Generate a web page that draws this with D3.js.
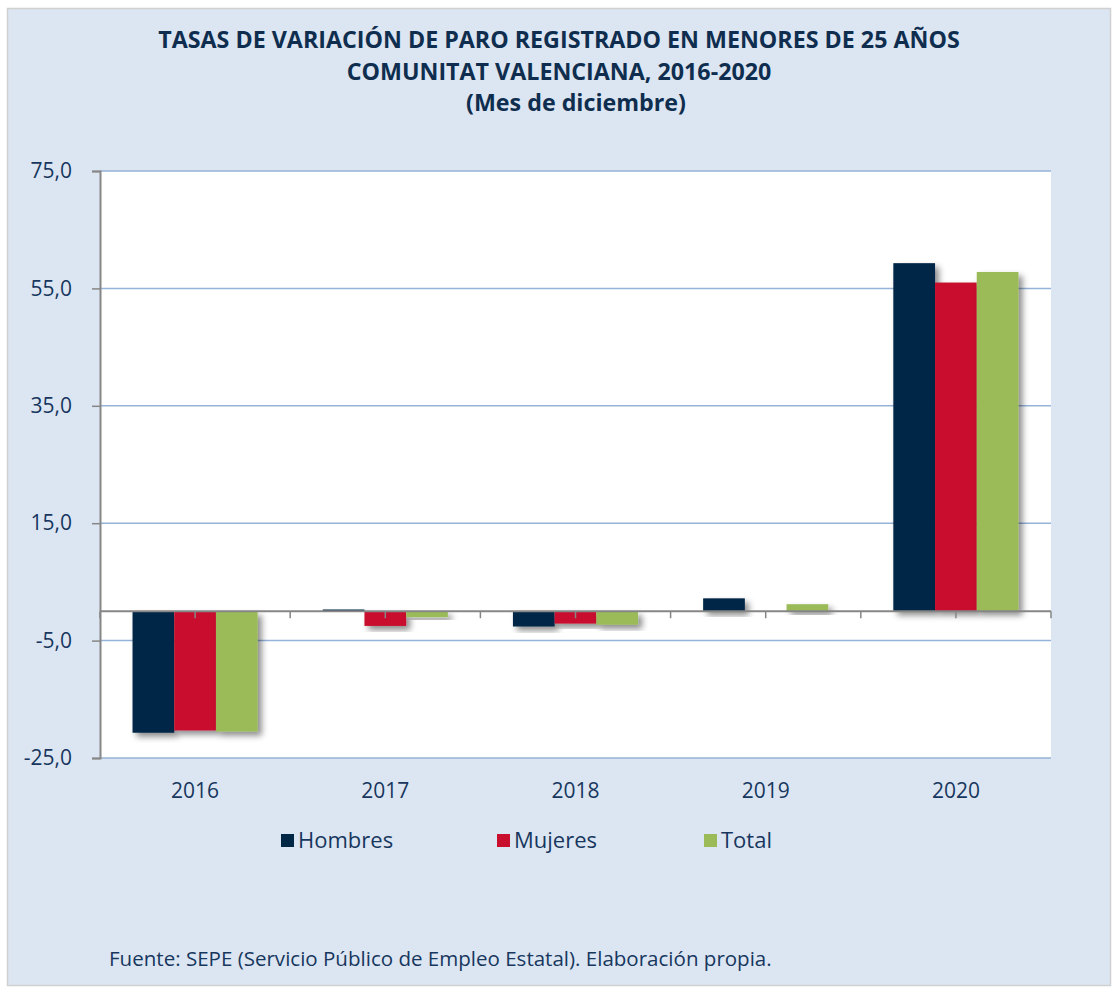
<!DOCTYPE html>
<html>
<head>
<meta charset="utf-8">
<script src="https://cdn.jsdelivr.net/npm/d3@7"></script>
<style>
  body { margin: 0; background: #fff; }
  svg { display: block; font-family: "Open Sans", sans-serif; }
</style>
</head>
<body>
<svg id="chart" width="1117" height="992"></svg>
<script>
// chart data
const years = ["2016", "2017", "2018", "2019", "2020"];
const seriesNames = ["Hombres", "Mujeres", "Total"];
const hombres = [-20.7, 0.3, -2.6, 2.2, 59.3];
const mujeres = [-20.3, -2.5, -2.1, 0.0, 56.0];
const total = [-20.5, -1.0, -2.3, 1.2, 57.8];
const yTicks = [75, 55, 35, 15, -5, -25];
const colors = ["#002846", "#c8102e", "#9bbb59"];

const titleLines = [
  "TASAS DE VARIACIÓN DE PARO REGISTRADO EN MENORES DE 25 AÑOS",
  "COMUNITAT VALENCIANA, 2016-2020",
  "(Mes de diciembre)"
];
const source = "Fuente: SEPE (Servicio Público de Empleo Estatal). Elaboración propia.";

const values = [hombres, mujeres, total];
const svg = d3.select("#chart");

// scale a text's font so that it spans a given width
function fitWidth(sel, target) {
  const w = sel.node().getComputedTextLength();
  const fs = parseFloat(sel.attr("font-size"));
  return fs * target / w;
}

// panel background
svg.append("rect")
  .attr("x", 7.5).attr("y", 8.5)
  .attr("width", 1103).attr("height", 977)
  .attr("fill", "#dce6f2")
  .attr("stroke", "#d0d0d0")
  .attr("stroke-width", 1.5);

// shadow for bars
const filt = svg.append("defs").append("filter")
  .attr("id", "shadow")
  .attr("x", "-20%").attr("y", "-20%")
  .attr("width", "160%").attr("height", "160%");
filt.append("feDropShadow")
  .attr("dx", 4).attr("dy", 4)
  .attr("stdDeviation", 3)
  .attr("flood-color", "#000")
  .attr("flood-opacity", 0.45);

// title (last line sits a little to the right in the original)
const title = svg.append("g").selectAll("text")
  .data(titleLines)
  .join("text")
  .attr("x", 559)
  .attr("dx", (d, i) => i === 2 ? 17 : 0)
  .attr("y", (d, i) => 48 + i * 31.5)
  .attr("text-anchor", "middle")
  .attr("font-size", 21)
  .attr("font-weight", "bold")
  .attr("fill", "#0f2e4f")
  .text(d => d);
const titleSize = fitWidth(title.filter((d, i) => i === 0), 802);
title.attr("font-size", titleSize);

const plot = { left: 100, right: 1051, top: 171, bottom: 758 };

const y = d3.scaleLinear()
  .domain([-25, 75])
  .range([plot.bottom, plot.top]);

const x0 = d3.scaleBand()
  .domain(years)
  .range([plot.left, plot.right]);

const x1 = d3.scaleBand()
  .domain(seriesNames)
  .range([0, x0.bandwidth()])
  .paddingOuter(0.78);

// plot area
svg.append("rect")
  .attr("x", plot.left).attr("y", plot.top)
  .attr("width", plot.right - plot.left)
  .attr("height", plot.bottom - plot.top)
  .attr("fill", "#fff");

// gridlines
svg.append("g").selectAll("line")
  .data(yTicks)
  .join("line")
  .attr("x1", plot.left).attr("x2", plot.right)
  .attr("y1", d => y(d)).attr("y2", d => y(d))
  .attr("stroke", "#95b3d7")
  .attr("stroke-width", 1.5);

// y axis
const yAxis = svg.append("g")
  .attr("transform", `translate(${plot.left},0)`)
  .call(d3.axisLeft(y)
    .tickValues(yTicks)
    .tickSize(8)
    .tickPadding(20)
    .tickFormat(d => d3.format(".1f")(d).replace(".", ",").replace("−", "-")));
yAxis.select(".domain").attr("stroke", "#868686").attr("stroke-width", 2);
yAxis.selectAll(".tick line").attr("stroke", "#868686").attr("stroke-width", 1.5);
yAxis.selectAll(".tick text")
  .attr("font-size", 21)
  .attr("font-family", "'Open Sans', sans-serif")
  .attr("fill", "#17375e");

// bars
const groups = svg.append("g").selectAll("g")
  .data(years)
  .join("g")
  .attr("transform", d => `translate(${x0(d)},0)`);

groups.selectAll("rect")
  .data((yr, i) => seriesNames.map((s, j) => ({ s, j, v: values[j][i] })))
  .join("rect")
  .attr("x", d => x1(d.s))
  .attr("width", x1.bandwidth())
  .attr("y", d => y(Math.max(0, d.v)))
  .attr("height", d => Math.abs(y(d.v) - y(0)))
  .attr("fill", d => colors[d.j])
  .attr("filter", "url(#shadow)");

// zero axis with ticks every half category
const xTicks = d3.range(0, years.length * 2 + 1).map(i => plot.left + i * x0.bandwidth() / 2);
svg.append("g").selectAll("line")
  .data(xTicks)
  .join("line")
  .attr("x1", d => d).attr("x2", d => d)
  .attr("y1", y(0)).attr("y2", y(0) + 7)
  .attr("stroke", "#868686")
  .attr("stroke-width", 1.5);
svg.append("line")
  .attr("x1", plot.left).attr("x2", plot.right)
  .attr("y1", y(0)).attr("y2", y(0))
  .attr("stroke", "#868686")
  .attr("stroke-width", 2);

// category labels
svg.append("g").selectAll("text")
  .data(years)
  .join("text")
  .attr("x", d => x0(d) + x0.bandwidth() / 2)
  .attr("y", 798)
  .attr("text-anchor", "middle")
  .attr("font-size", 21)
  .attr("fill", "#17375e")
  .text(d => d);

// legend
const legendX = [281, 497, 704];
const legend = svg.append("g").selectAll("g")
  .data(seriesNames)
  .join("g")
  .attr("transform", (d, i) => `translate(${legendX[i]},834)`);
legend.append("rect")
  .attr("width", 13).attr("height", 13)
  .attr("fill", (d, i) => colors[i]);
legend.append("text")
  .attr("x", 17).attr("y", 14)
  .attr("font-size", 22)
  .attr("fill", "#17375e")
  .text(d => d);

// source
const src = svg.append("text")
  .attr("x", 109).attr("y", 966)
  .attr("font-size", 18)
  .attr("fill", "#17375e")
  .text(source);
src.attr("font-size", fitWidth(src, 663));
</script>
</body>
</html>
